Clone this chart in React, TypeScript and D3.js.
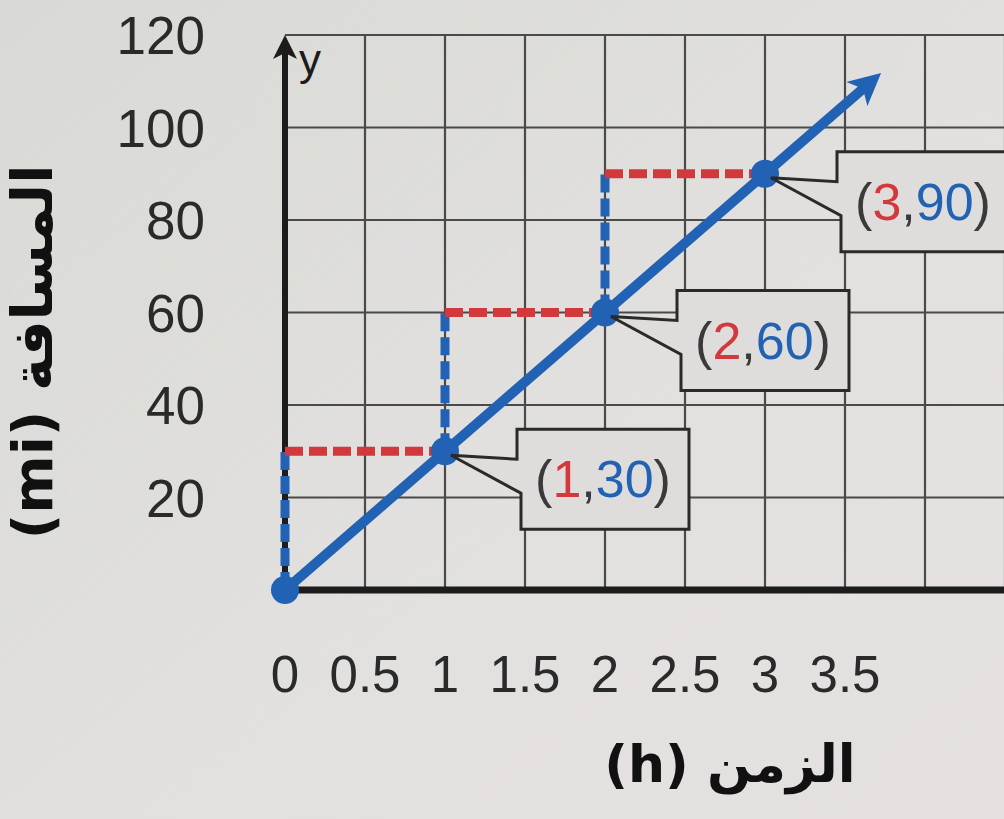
import React from 'react';
import * as d3 from 'd3';

// values
const pointX = [0, 1, 2, 3];
const pointY = [0, 30, 60, 90];
const lineEnd = { x: 3.65, y: 109.5 };
const xTicks = [0, 0.5, 1, 1.5, 2, 2.5, 3, 3.5];
const xTickLabels = ['0', '0.5', '1', '1.5', '2', '2.5', '3', '3.5'];
const yTicks = [20, 40, 60, 80, 100, 120];
const yTickLabels = ['20', '40', '60', '80', '100', '120'];
const xGrid = [0.5, 1, 1.5, 2, 2.5, 3, 3.5, 4, 4.5];
const yTitle = 'المسافة (mi)';
const xTitle = 'الزمن (h)';

const W = 1004;
const H = 819;
const RED = '#d3383c';
const BLUE = '#2262b4';
const INK = '#1c1c1c';
const BG = '#dedddb';

const App = () => {
  const x = d3.scaleLinear().domain([0, 4.5]).range([285, 1005]);
  const y = d3.scaleLinear().domain([0, 120]).range([590, 35]);

  const line = d3.line<number>()
    .x((d, i) => x(i < pointX.length ? pointX[i] : lineEnd.x))
    .y((d, i) => y(i < pointY.length ? pointY[i] : lineEnd.y));
  const linePts = [...pointX, lineEnd.x];

  // staircase guides: blue rise then red run
  const rises = pointX.slice(0, -1).map((px, i) => ({ x: px, y0: pointY[i], y1: pointY[i + 1] }));
  const runs = pointX.slice(0, -1).map((px, i) => ({ x0: px, x1: pointX[i + 1], y: pointY[i + 1] }));

  const callout = (px: number, py: number) => {
    const L = px + 72, T = py - 22, R = L + 172, B = py + 78;
    return `M${L},${T} H${R} V${B} H${L + 4} V${py + 42} L${px + 6},${py + 4} L${L},${py + 8} Z`;
  };

  const font = "'Liberation Sans', 'Open Sans', sans-serif";

  return (
    <div style={{ position: 'absolute', left: 0, top: 0 }}>
      <svg width={W} height={H} style={{ display: 'block' }}>
        <defs>
          <linearGradient id="bg" x1="0" y1="0" x2="1" y2="1">
            <stop offset="0%" stopColor="#d9d9d6" />
            <stop offset="60%" stopColor="#e2e1df" />
            <stop offset="100%" stopColor="#e6e0e0" />
          </linearGradient>
          <marker id="arrowBlue" viewBox="0 0 10 10" refX="5" refY="5" markerWidth="3.2" markerHeight="3.2" orient="auto">
            <path d="M0,0 L10,5 L0,10 L2.5,5 Z" fill={BLUE} />
          </marker>
          <marker id="arrowBlack" viewBox="0 0 10 10" refX="5" refY="5" markerWidth="4" markerHeight="4" orient="auto">
            <path d="M0,0 L10,5 L0,10 L2.5,5 Z" fill={INK} />
          </marker>
        </defs>
        <rect width={W} height={H} fill="url(#bg)" />

        {/* grid */}
        <g stroke="#4a4a4a" strokeWidth={2.2}>
          {xGrid.map(v => (
            <line key={'gx' + v} x1={x(v)} x2={x(v)} y1={y(0)} y2={y(120)} />
          ))}
          {yTicks.map(v => (
            <line key={'gy' + v} x1={x(0)} x2={W} y1={y(v)} y2={y(v)} />
          ))}
        </g>

        {/* axes */}
        <line x1={x(0)} x2={W} y1={y(0)} y2={y(0)} stroke={INK} strokeWidth={7} />
        <line x1={x(0)} x2={x(0)} y1={y(0)} y2={y(120) + 12} stroke={INK} strokeWidth={6} markerEnd="url(#arrowBlack)" />
        <text x={x(0) + 14} y={y(120) + 40} fontFamily={font} fontSize={44} fill={INK}>y</text>

        {/* tick labels */}
        {yTicks.map((v, i) => (
          <text key={'yt' + v} x={205} y={y(v)} dy="0.36em" textAnchor="end" fontFamily={font} fontSize={53} fill="#2a2a2a">
            {yTickLabels[i]}
          </text>
        ))}
        {xTicks.map((v, i) => (
          <text key={'xt' + v} x={x(v)} y={692} textAnchor="middle" fontFamily={font} fontSize={51} fill="#2a2a2a">
            {xTickLabels[i]}
          </text>
        ))}

        {/* axis titles */}
        <text transform={`translate(52,352) rotate(-90)`} textAnchor="middle" direction="rtl" fontFamily="'DejaVu Sans', sans-serif" fontWeight="bold" fontSize={56} fill="#111">
          {yTitle}
        </text>
        <text x={730} y={782} textAnchor="middle" direction="rtl" fontFamily="'DejaVu Sans', sans-serif" fontWeight="bold" fontSize={52} fill="#111">
          {xTitle}
        </text>

        {/* guides */}
        <g strokeWidth={9} strokeDasharray="18 6" fill="none">
          {rises.map((r, i) => (
            <line key={'r' + i} x1={x(r.x)} x2={x(r.x)} y1={y(r.y0)} y2={y(r.y1)} stroke={BLUE} />
          ))}
          {runs.map((r, i) => (
            <line key={'h' + i} x1={x(r.x0)} x2={x(r.x1)} y1={y(r.y)} y2={y(r.y)} stroke={RED} />
          ))}
        </g>

        {/* main line */}
        <path d={line(linePts) || ''} fill="none" stroke={BLUE} strokeWidth={10} markerEnd="url(#arrowBlue)" />
        {pointX.map((v, i) => (
          <circle key={'p' + i} cx={x(v)} cy={y(pointY[i])} r={14} fill={BLUE} />
        ))}

        {/* callouts */}
        {pointX.slice(1).map((v, k) => {
          const i = k + 1;
          const px = x(v), py = y(pointY[i]);
          const cx = px + 72 + 86;
          return (
            <g key={'c' + i}>
              <path d={callout(px, py)} fill={BG} stroke="#2a2a2a" strokeWidth={3} />
              <text x={cx} y={py + 46} textAnchor="middle" fontFamily={font} fontSize={52} fill="#3a3a3a">
                (<tspan fill={RED}>{String(v)}</tspan>,<tspan fill={BLUE}>{String(pointY[i])}</tspan>)
              </text>
            </g>
          );
        })}
      </svg>
    </div>
  );
};

export default App;
